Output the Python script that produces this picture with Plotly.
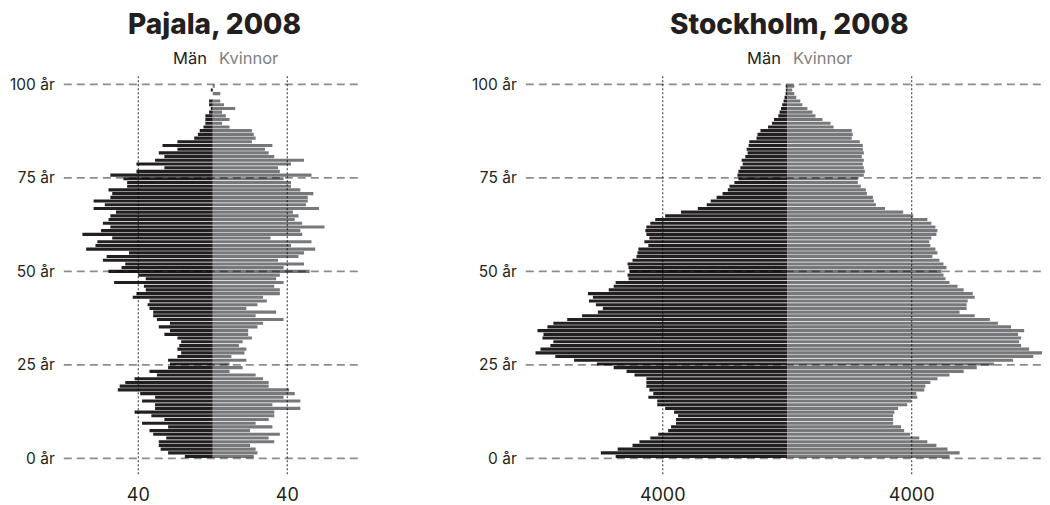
import plotly.graph_objects as go

# ---------------- data ----------------
ages = list(range(101))

pajala_men = [15, 24, 28, 29, 29, 25, 32, 34, 24, 38,
              26, 33, 42, 31, 31, 38, 31, 39, 51, 50,
              47, 42, 30, 34, 24, 23, 24, 19, 17, 19,
              18, 17, 19, 26, 23, 29, 23, 30, 32, 32,
              34, 35, 34, 43, 41, 36, 37, 53, 36, 40,
              56, 49, 47, 59, 57, 45, 68, 63, 62, 54,
              70, 60, 55, 59, 56, 55, 52, 64, 58, 64,
              55, 54, 56, 46, 46, 48, 55, 41, 26, 41,
              31, 26, 29, 19, 27, 19, 10, 8, 7, 5,
              4, 4, 4, 2, 1, 2, 2, 0, 0, 1,
              0]
pajala_women = [22, 24, 23, 20, 33, 30, 36, 20, 32, 23,
                30, 33, 33, 47, 32, 47, 38, 44, 41, 30,
                30, 27, 23, 9, 16, 9, 18, 10, 17, 18,
                14, 16, 21, 19, 19, 24, 27, 38, 23, 34,
                18, 24, 29, 27, 36, 36, 33, 38, 34, 36,
                52, 38, 49, 35, 46, 49, 55, 42, 53, 31,
                48, 47, 60, 48, 44, 46, 43, 57, 50, 51,
                51, 54, 47, 42, 42, 38, 53, 36, 35, 42,
                49, 33, 30, 28, 32, 21, 23, 22, 21, 9,
                5, 9, 7, 5, 12, 6, 4, 0, 4, 0,
                1]

sthlm_men = [5512, 5989, 5448, 4971, 4749, 4399, 4144, 3826, 3731, 3572,
             3572, 3508, 3635, 3922, 4176, 4176, 4462, 4304, 4431, 4526,
             4526, 4526, 4908, 5162, 5576, 6116, 6848, 7452, 8088, 7929,
             7611, 7515, 7865, 7833, 8024, 7706, 7515, 7070, 6593, 6084,
             5925, 6148, 6371, 6244, 6403, 5735, 5576, 5512, 5098, 5130,
             5067, 5099, 5130, 4971, 4844, 4812, 4781, 4463, 4590, 4431,
             4526, 4558, 4526, 4399, 4240, 3922, 3413, 2872, 2586, 2459,
             2268, 2078, 1908, 1855, 1696, 1569, 1600, 1569, 1505, 1431,
             1463, 1346, 1272, 1304, 1240, 1219, 986, 954, 859, 615,
             488, 424, 287, 245, 200, 160, 117, 85, 50, 40,
             20]
sthlm_women = [5216, 5540, 5152, 4795, 4504, 4244, 3953, 3758, 3661, 3402,
               3402, 3402, 3445, 3564, 3856, 3985, 4180, 4147, 4406, 4439,
               4601, 4828, 5216, 5670, 6091, 6642, 7258, 7906, 8262, 7776,
               7517, 7452, 7517, 7420, 7614, 7193, 6772, 6512, 6026, 5540,
               5767, 5767, 5800, 6026, 5962, 5670, 5476, 5216, 5087, 5022,
               4957, 5119, 5022, 4892, 4666, 4828, 4763, 4601, 4568, 4633,
               4795, 4828, 4763, 4633, 4504, 4050, 3726, 3143, 2851, 2786,
               2754, 2560, 2527, 2365, 2268, 2268, 2462, 2495, 2462, 2430,
               2462, 2398, 2462, 2430, 2430, 2333, 2074, 2106, 2074, 1490,
               1393, 1134, 907, 810, 648, 486, 421, 292, 227, 162,
               227]

titles = ["Pajala, 2008", "Stockholm, 2008"]
sex_labels = ["Män", "Kvinnor"]
age_tick_vals = [0, 25, 50, 75, 100]
age_tick_text = [f"{v} år" for v in age_tick_vals]
pajala_ticks = [-40, 40]
pajala_tick_text = ["40", "40"]
sthlm_ticks = [-4000, 4000]
sthlm_tick_text = ["4000", "4000"]

# ---------------- style ----------------
MEN = "#231f20"
WOMEN = "#77787b"
TEXT = "#231f20"
GREY_TEXT = "#808080"
FONT = "Inter"

# page body has an 8px margin, so the figure is sized to fit the window
W, H = 1042, 497

panels = [
    dict(men=pajala_men, women=pajala_women, title=titles[0],
         ticks=pajala_ticks, ticktext=pajala_tick_text, xrange=[-80, 80],
         xa="x", ya="y", ta="y3", domain=[0.05355, 0.33954]),
    dict(men=sthlm_men, women=sthlm_women, title=titles[1],
         ticks=sthlm_ticks, ticktext=sthlm_tick_text, xrange=[-8400, 8400],
         xa="x2", ya="y2", ta="y4", domain=[0.49693, 0.99866]),
]

ydom = [0.05634, 0.86519]
fig = go.Figure()
shapes = []
annotations = []
layout_axes = {}

for i, p in enumerate(panels):
    fig.add_trace(go.Bar(y=ages, x=[-v for v in p["men"]], orientation="h",
                         marker=dict(color=MEN, line=dict(width=0)), width=0.84,
                         xaxis=p["xa"], yaxis=p["ya"], showlegend=False,
                         name=sex_labels[0]))
    fig.add_trace(go.Bar(y=ages, x=p["women"], orientation="h",
                         marker=dict(color=WOMEN, line=dict(width=0)), width=0.84,
                         xaxis=p["xa"], yaxis=p["ya"], showlegend=False,
                         name=sex_labels[1]))
    # invisible helper so the age-tick axis is drawn
    fig.add_trace(go.Scatter(x=[0], y=[50], mode="markers", marker=dict(opacity=0),
                             xaxis=p["xa"], yaxis=p["ta"], showlegend=False,
                             hoverinfo="skip"))

    xk = "xaxis" if i == 0 else "xaxis2"
    yk = "yaxis" if i == 0 else "yaxis2"
    tk = "yaxis3" if i == 0 else "yaxis4"
    layout_axes[xk] = dict(domain=p["domain"], range=p["xrange"], anchor=p["ya"],
                           tickvals=p["ticks"], ticktext=p["ticktext"],
                           showgrid=False, zeroline=False, showline=False, ticks="",
                           tickfont=dict(family=FONT, size=18, color=TEXT),
                           ticklabelstandoff=8, fixedrange=True)
    layout_axes[yk] = dict(domain=ydom, range=[-4.78, 102.91], anchor=p["xa"],
                           visible=False, fixedrange=True)
    layout_axes[tk] = dict(overlaying=p["ya"], anchor=p["xa"], side="left",
                           range=[-4.24, 102.39], tickvals=age_tick_vals,
                           ticktext=age_tick_text, showgrid=False, zeroline=False,
                           showline=False, ticks="",
                           tickfont=dict(family=FONT, size=15.5, color=TEXT),
                           ticklabelstandoff=8, fixedrange=True)

    for t in age_tick_vals:
        shapes.append(dict(type="line", layer="above", xref=p["xa"] + " domain",
                           x0=0, x1=1, yref=p["ta"], y0=t, y1=t,
                           line=dict(color="rgba(0,0,0,0.45)", width=1.6,
                                     dash="8px,5px")))
    for t in p["ticks"]:
        shapes.append(dict(type="line", layer="above", xref=p["xa"], x0=t, x1=t,
                           yref=p["ya"] + " domain", y0=0, y1=1,
                           line=dict(color="rgba(0,0,0,0.7)", width=1.2,
                                     dash="2px,2px")))

    annotations.append(dict(text=p["title"], xref=p["xa"], x=0, xshift=2,
                            yref="paper", y=0.9698, yanchor="middle",
                            showarrow=False,
                            font=dict(family=FONT, size=28, color=TEXT, weight=800)))
    annotations.append(dict(text=sex_labels[0], xref=p["xa"], x=0, xanchor="right",
                            xshift=-4, yref="paper", y=0.9004, yanchor="middle",
                            showarrow=False,
                            font=dict(family=FONT, size=16.5, color=TEXT)))
    annotations.append(dict(text=sex_labels[1], xref=p["xa"], x=0, xanchor="left",
                            xshift=4, yref="paper", y=0.9004, yanchor="middle",
                            showarrow=False,
                            font=dict(family=FONT, size=16.5, color=GREY_TEXT)))

fig.update_layout(
    width=W, height=H,
    margin=dict(l=0, r=0, t=0, b=0),
    paper_bgcolor="white", plot_bgcolor="white",
    barmode="overlay",
    shapes=shapes, annotations=annotations,
    font=dict(family=FONT, color=TEXT),
    **layout_axes,
)

fig.write_html("out.html")
